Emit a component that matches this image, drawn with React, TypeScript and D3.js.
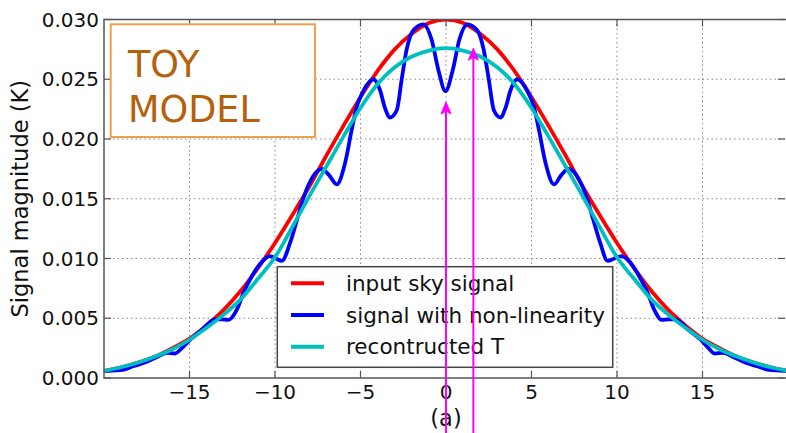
import React from 'react';
import * as d3 from 'd3';

// x positions (same grid for red and cyan)
const gridX = [-20, -19, -18, -17, -16, -15, -14, -13, -12, -11, -10, -9, -8, -7, -6, -5, -4, -3, -2, -1, 0,
  1, 2, 3, 4, 5, 6, 7, 8, 9, 10, 11, 12, 13, 14, 15, 16, 17, 18, 19, 20];

const inputSky = [0.0006, 0.0009, 0.0013, 0.0018, 0.0025, 0.0033, 0.0044, 0.0057, 0.0073, 0.0092, 0.0113,
  0.0136, 0.0160, 0.0186, 0.0211, 0.0235, 0.0257, 0.0275, 0.0288, 0.0297, 0.0300,
  0.0297, 0.0288, 0.0275, 0.0257, 0.0235, 0.0211, 0.0186, 0.0160, 0.0136, 0.0113,
  0.0092, 0.0073, 0.0057, 0.0044, 0.0033, 0.0025, 0.0018, 0.0013, 0.0009, 0.0006];

const reconstructed = [0.0006, 0.0009, 0.0013, 0.0018, 0.0024, 0.0032, 0.0042, 0.0053, 0.0066, 0.0083, 0.0101,
  0.0126, 0.0152, 0.0177, 0.0202, 0.0226, 0.0246, 0.0260, 0.0269, 0.0274, 0.0276,
  0.0274, 0.0269, 0.0260, 0.0246, 0.0226, 0.0202, 0.0177, 0.0152, 0.0126, 0.0101,
  0.0083, 0.0066, 0.0053, 0.0042, 0.0032, 0.0024, 0.0018, 0.0013, 0.0009, 0.0006];

// signal with non-linearity, read point by point
const nlX = [-20, -19.5, -18.9, -18.3, -17.6, -16.9, -16.3, -15.85, -15.45, -14.97, -14.3, -13.5, -13.1, -12.73,
  -12.24, -11.85, -11.36, -10.78, -10.29, -9.95, -9.6, -9.12, -8.7, -8.35, -7.76, -7.27, -6.85, -6.39,
  -5.9, -5.51, -5.22, -4.84, -4.25, -3.86, -3.57, -3.27, -2.88, -2.59, -2.3, -1.91, -1.33, -0.84, -0.45, -0.03,
  0.4, 0.78, 1.25, 1.82, 2.2, 2.5, 2.8, 3.18, 3.48, 3.78, 4.17, 4.76, 5.14, 5.43, 5.82, 6.32, 6.75, 7.17,
  7.66, 8.25, 8.6, 9.02, 9.45, 9.85, 10.27, 10.75, 11.3, 11.8, 12.18, 12.62, 13.0, 13.4, 14.2, 14.9, 15.35,
  15.7, 16.2, 16.8, 17.5, 18.2, 18.9, 19.5, 20];
const nlY = [0.00058, 0.00062, 0.00068, 0.00098, 0.0013, 0.00175, 0.0021, 0.00205, 0.0025, 0.0032, 0.0040,
  0.0049, 0.0049, 0.00486, 0.0057, 0.0071, 0.0085, 0.0097, 0.0102, 0.0100, 0.0098, 0.0113, 0.0133, 0.0150,
  0.0169, 0.0175, 0.0170, 0.0162, 0.0180, 0.0208, 0.0227, 0.0240, 0.0250, 0.0241, 0.0226, 0.0218, 0.0224,
  0.0250, 0.0275, 0.0291, 0.0296, 0.0283, 0.0258, 0.0240,
  0.0258, 0.0283, 0.0296, 0.0291, 0.0275, 0.0250, 0.0224, 0.0218, 0.0226, 0.0241, 0.0250, 0.0240, 0.0227,
  0.0208, 0.0180, 0.0162, 0.0170, 0.0175, 0.0169, 0.0150, 0.0133, 0.0113, 0.0098, 0.0100, 0.0102, 0.0097,
  0.0085, 0.0071, 0.0057, 0.00486, 0.0049, 0.0049, 0.0040, 0.0032, 0.0025, 0.00205, 0.0021, 0.00175, 0.0013,
  0.00098, 0.00068, 0.00062, 0.00058];

const xTicks = [-15, -10, -5, 0, 5, 10, 15];
const yTicks = [0, 0.005, 0.01, 0.015, 0.02, 0.025, 0.03];
const yTickLabels = ['0.000', '0.005', '0.010', '0.015', '0.020', '0.025', '0.030'];

// magenta arrows: x position and tip height
const arrowX = [0, 1.6];
const arrowTipY = [0.0231, 0.0276];

const legendLabels = ['input sky signal', 'signal with non-linearity', 'recontructed T'];
const seriesColors = ['#ff0000', '#0000ff', '#00bfbf'];

const W = 786;
const H = 433;
const FONT = 'DejaVu Sans, sans-serif';

const App = () => {
  const left = 104, right = 788, top = 19.5, bottom = 378;
  const x = d3.scaleLinear().domain([-20, 20]).range([left, right]);
  const y = d3.scaleLinear().domain([0, 0.03]).range([bottom, top]);

  const line = d3.line<[number, number]>()
    .x(d => x(d[0]))
    .y(d => y(d[1]))
    .curve(d3.curveMonotoneX);

  const redPath = line(gridX.map((v, i) => [v, inputSky[i]]));
  const bluePath = line(nlX.map((v, i) => [v, nlY[i]]));
  const cyanPath = line(gridX.map((v, i) => [v, reconstructed[i]]));

  const axisColor = '#555';
  const tickLen = 7;

  return (
    <svg width={W} height={H} style={{ position: 'absolute', left: 0, top: 0, background: '#fff' }}
      fontFamily={FONT}>
      <defs>
        <clipPath id="plot">
          <rect x={left} y={top} width={right - left} height={bottom - top} />
        </clipPath>
      </defs>
      <rect x={0} y={0} width={W} height={H} fill="#fff" />

      {/* grid */}
      <g stroke="#888" strokeWidth={1} strokeDasharray="1.5,3">
        {xTicks.map(t => (
          <line key={'gx' + t} x1={x(t)} x2={x(t)} y1={top} y2={bottom} />
        ))}
        {yTicks.slice(1, -1).map(t => (
          <line key={'gy' + t} x1={left} x2={right} y1={y(t)} y2={y(t)} />
        ))}
      </g>

      {/* curves */}
      <g clipPath="url(#plot)" fill="none" strokeWidth={3.8} strokeLinejoin="round">
        <path d={redPath || ''} stroke={seriesColors[0]} />
        <path d={bluePath || ''} stroke={seriesColors[1]} />
        <path d={cyanPath || ''} stroke={seriesColors[2]} />
      </g>

      {/* frame and ticks */}
      <rect x={left} y={top} width={right - left} height={bottom - top} fill="none" stroke={axisColor} strokeWidth={1.5} />
      <g stroke={axisColor} strokeWidth={1.2}>
        {xTicks.map(t => (
          <g key={'xt' + t}>
            <line x1={x(t)} x2={x(t)} y1={bottom} y2={bottom - tickLen} />
            <line x1={x(t)} x2={x(t)} y1={top} y2={top + tickLen} />
          </g>
        ))}
        {yTicks.map(t => (
          <g key={'yt' + t}>
            <line x1={left} x2={left + tickLen} y1={y(t)} y2={y(t)} />
            <line x1={right - 3} x2={right - 3 - tickLen} y1={y(t)} y2={y(t)} />
          </g>
        ))}
      </g>

      {/* tick labels */}
      <g fontSize={20} fill="#111">
        {xTicks.map(t => (
          <text key={'xl' + t} x={x(t)} y={398.5} textAnchor="middle">{d3.format('d')(t)}</text>
        ))}
        {yTicks.map((t, i) => (
          <text key={'yl' + t} x={99} y={y(t) + 7} textAnchor="end">{yTickLabels[i]}</text>
        ))}
      </g>

      <text x={x(0)} y={426} textAnchor="middle" fontSize={22.5} fill="#111">(a)</text>
      <text transform={`translate(28,${(top + bottom) / 2}) rotate(-90)`} textAnchor="middle" fontSize={22.5} fill="#111">
        Signal magnitude (K)
      </text>

      {/* TOY MODEL box */}
      <rect x={110.7} y={24.3} width={204.3} height={112.7} fill="#fff" stroke="#f0a04b" strokeWidth={2} />
      <g fill="#b5600a" fontSize={36.5}>
        <text x={128} y={77}>TOY</text>
        <text x={128} y={121.5}>MODEL</text>
      </g>

      {/* legend */}
      <rect x={277.3} y={266.7} width={335.4} height={100.6} fill="#fff" stroke="#444" strokeWidth={1.5} />
      {legendLabels.map((lab, i) => (
        <g key={lab}>
          <line x1={291} x2={324} y1={283.3 + i * 31.7} y2={283.3 + i * 31.7} stroke={seriesColors[i]} strokeWidth={4} />
          <text x={346} y={283.3 + i * 31.7 + 7.5} fontSize={21.5} fill="#111">{lab}</text>
        </g>
      ))}

      {/* magenta arrows */}
      {arrowX.map((a, i) => {
        const ax = x(a);
        const ty = y(arrowTipY[i]);
        return (
          <g key={'ar' + i} fill="#ff00ff" stroke="#ff00ff">
            <line x1={ax} x2={ax} y1={H + 5} y2={ty + 6} strokeWidth={2} />
            <path d={`M${ax},${ty} L${ax - 5},${ty + 12} L${ax},${ty + 9} L${ax + 5},${ty + 12} Z`} strokeWidth={1} />
          </g>
        );
      })}
    </svg>
  );
};

export default App;
